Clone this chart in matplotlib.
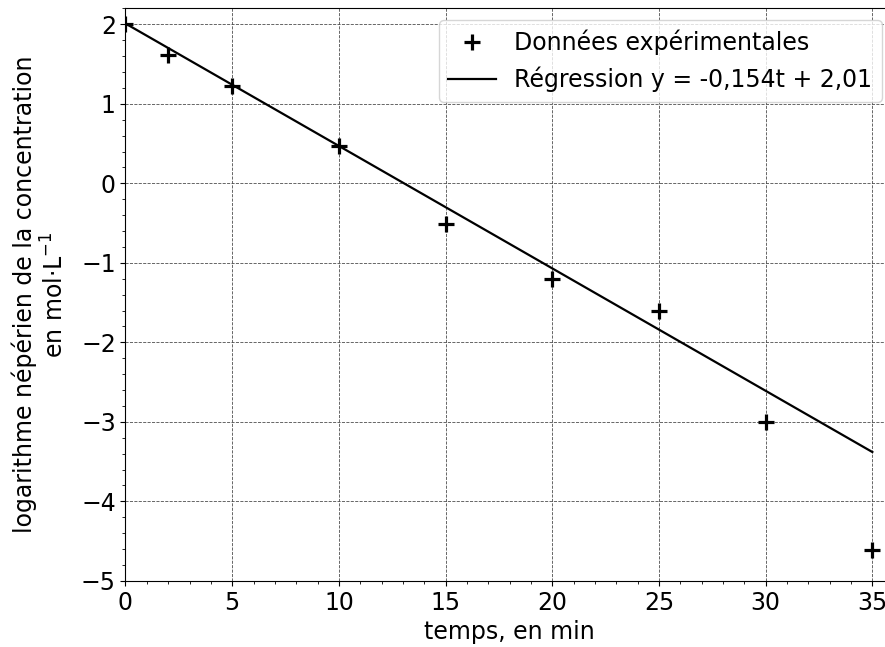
import numpy as np
import matplotlib.pyplot as plt
from matplotlib.ticker import MultipleLocator

# temps en min et ln(concentration)
temps = [0, 2, 5, 10, 15, 20, 25, 30, 35]
ln_c = [2.00, 1.61, 1.22, 0.47, -0.51, -1.20, -1.61, -3.00, -4.61]
pente = -0.154
ordonnee = 2.01

plt.rcParams['font.size'] = 17

fig = plt.figure(figsize=(8.85, 6.47), dpi=100)
ax = fig.add_axes([0.1418, 0.1023, 0.868, 0.8847])

t_reg = np.array([temps[0], temps[-1]])
ax.plot(temps, ln_c, '+', color='black', markersize=11, markeredgewidth=2.3,
        linestyle='none', label='Données expérimentales')
ax.plot(t_reg, pente * t_reg + ordonnee, color='black', linewidth=1.6,
        label='Régression y = -0,154t + 2,01')

ax.set_xlim(0, 36)
ax.set_ylim(-5, 2.2)
ax.xaxis.set_major_locator(MultipleLocator(5))
ax.xaxis.set_minor_locator(MultipleLocator(1))
ax.yaxis.set_major_locator(MultipleLocator(1))
ax.yaxis.set_minor_locator(MultipleLocator(0.2))
ax.grid(which='major', linestyle='--', color='0.3', linewidth=0.6)

ax.set_xlabel('temps, en min')
ax.set_ylabel('logarithme népérien de la concentration\nen mol·L$^{-1}$', labelpad=9)
ax.legend(loc='upper right')

fig.savefig('out.png', dpi=100)
